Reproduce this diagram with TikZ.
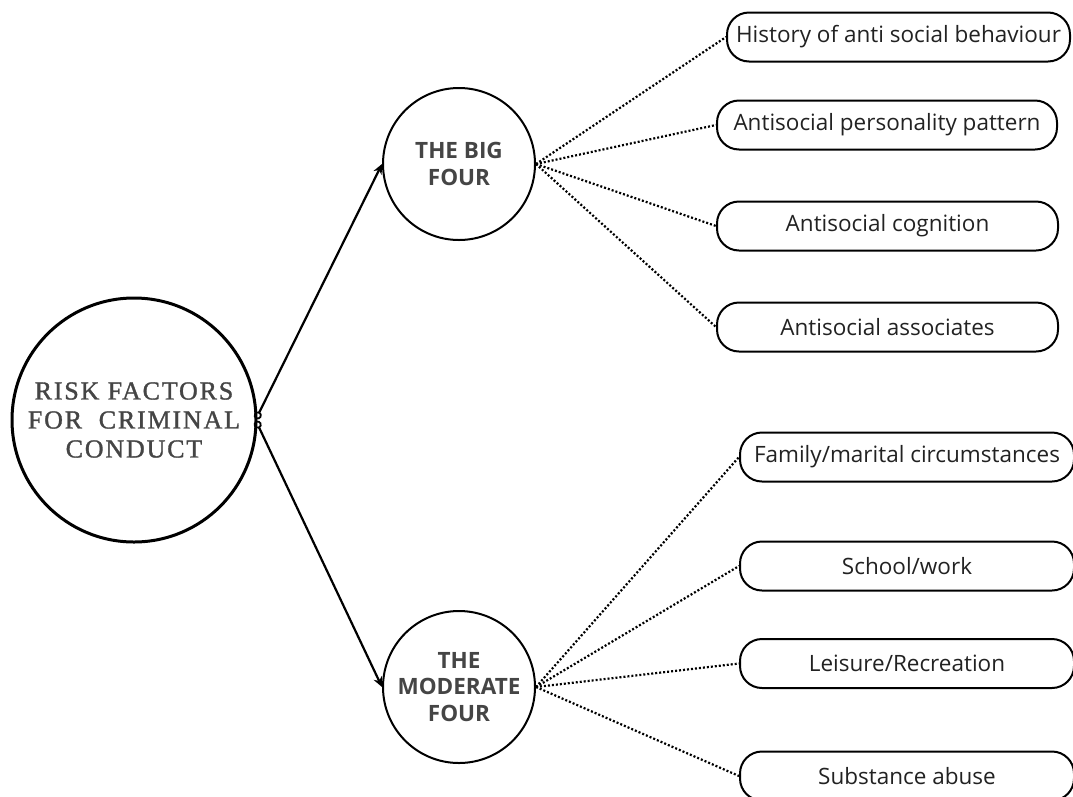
\documentclass[tikz,border=0pt]{standalone}
\usepackage{fontspec}
\setmainfont{Open Sans}
\newfontfamily\boxfont{Open Sans}
\newfontfamily\titlefont[LetterSpace=7,FakeBold=1.2]{Liberation Serif}
\usetikzlibrary{arrows.meta}
\definecolor{txtgrey}{HTML}{454545}
\definecolor{boxtxt}{HTML}{222222}
\begin{document}
\begin{tikzpicture}[x=1pt,y=-1pt,
  mainc/.style={circle,draw,line width=3pt,minimum size=244pt,inner sep=0pt,align=center,
    text=txtgrey,font=\titlefont\fontsize{26}{29}\selectfont},
  groupc/.style={circle,draw,line width=2pt,minimum size=152pt,inner sep=0pt,align=center,
    text=txtgrey,font=\bfseries\fontsize{22.5}{26.5}\selectfont},
  itembox/.style={draw,line width=2pt,rounded corners=22pt,minimum height=49pt,inner sep=0pt,
    text=boxtxt,font=\boxfont\fontsize{22.5}{26}\selectfont},
  link/.style={line width=2.2pt,{Circle[open,length=8pt,width=8pt,line width=1.8pt]}-{Stealth[length=10pt,width=9pt]}},
  dotlink/.style={line width=2.2pt,dash pattern=on 2pt off 2pt}
]
\useasboundingbox (0,0) rectangle (1073,796);
\fill[white] (0,0) rectangle (1073,796);

\node[mainc] (main) at (134,420) {RISK FACTORS\\FOR\ \ CRIMINAL\\CONDUCT};
\node[groupc] (big) at (459,164) {THE BIG\\FOUR};
\node[groupc] (mod) at (459,687) {THE\\MODERATE\\FOUR};

\coordinate (tA) at (256,419);
\coordinate (tB) at (256,421);

\node[itembox,minimum width=343pt] (b1) at (898.5,37) {History of anti social behaviour};
\node[itembox,minimum width=340pt] (b2) at (887,125) {Antisocial personality pattern};
\node[itembox,minimum width=341pt] (b3) at (887.5,226) {Antisocial cognition};
\node[itembox,minimum width=341pt] (b4) at (887.5,327) {Antisocial associates};
\node[itembox,minimum width=334pt] (b5) at (907,457) {Family/marital circumstances};
\node[itembox,minimum width=334pt] (b6) at (907,566) {School/work};
\node[itembox,minimum width=334pt] (b7) at (907,663.5) {Leisure/Recreation};
\node[itembox,minimum width=334pt] (b8) at (907,776) {Substance abuse};

\draw[link] (tA) -- (big.west);
\draw[link] (tB) -- (mod.west);

\foreach \b in {b1,b2,b3,b4} \draw[dotlink] (big.east) -- (\b.west);
\foreach \b in {b5,b6,b7,b8} \draw[dotlink] (mod.east) -- (\b.west);
\end{tikzpicture}
\end{document}
